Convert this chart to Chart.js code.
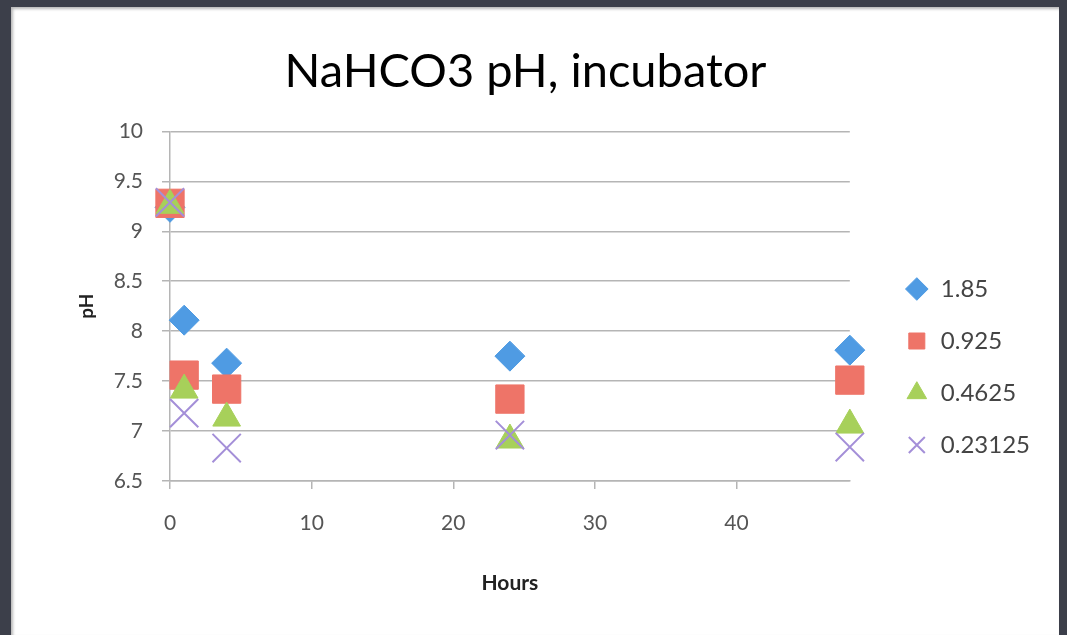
<!DOCTYPE html>
<html>
<head>
<meta charset="utf-8">
<script src="https://cdn.jsdelivr.net/npm/chart.js@4.4.1/dist/chart.umd.min.js"></script>
<style>
  html, body { margin: 0; padding: 0; }
  body { width: 1067px; height: 635px; background: #3c3f4a; overflow: hidden; position: relative; }
  #panel {
    position: absolute; left: 11px; top: 7px; width: 1048px; height: 628px;
    background: #fff; box-shadow: inset 2px 2px 3px #b8b8b8;
  }
  canvas { display: block; }
</style>
</head>
<body>
<div id="panel"><canvas id="phChart" width="1048" height="628"></canvas></div>
<script>
// hours measured
const hours = [0, 1, 4, 24, 48];

// NaHCO3 concentrations (legend labels)
const seriesNames = ["1.85", "0.925", "0.4625", "0.23125"];

// pH readings per concentration
const ph185 = [9.24, 8.11, 7.68, 7.75, 7.81];
const ph0925 = [9.28, 7.56, 7.42, 7.32, 7.51];
const ph04625 = [9.26, 7.41, 7.13, 6.91, 7.06];
const ph023125 = [9.29, 7.18, 6.83, 6.96, 6.84];

const seriesValues = [ph185, ph0925, ph04625, ph023125];
const seriesColors = ["#4f9be3", "#ee7468", "#a7d05a", "#a48fd8"];
const seriesStyles = ["rectRot", "rect", "triangle", "crossRot"];
const seriesRadius = [15, 20, 16, 20];

const yTicksMin = 6.5, yTicksMax = 10, yStep = 0.5;
const xTicksMin = 0, xTicksMax = 48, xStep = 10;

const font = "Lato, 'Open Sans', sans-serif";

let datasets = [];
for (let i = 0; i < seriesNames.length; i++) {
  let pts = [];
  for (let j = 0; j < hours.length; j++) {
    pts.push({x: hours[j], y: seriesValues[i][j]});
  }
  datasets.push({
    label: seriesNames[i],
    data: pts,
    showLine: false,
    clip: false,
    pointStyle: seriesStyles[i],
    pointRadius: seriesRadius[i],
    pointHoverRadius: seriesRadius[i],
    backgroundColor: seriesColors[i],
    borderColor: seriesColors[i],
    borderWidth: seriesStyles[i] == "crossRot" ? 2 : 1,
    // later series drawn on top, like the original
    order: seriesNames.length - i
  });
}

const ctx = document.getElementById("phChart");

new Chart(ctx, {
  type: "scatter",
  data: { datasets: datasets },
  options: {
    responsive: false,
    animation: false,
    layout: { padding: { left: 0, right: 19, top: 0, bottom: 0 } },
    plugins: {
      tooltip: { enabled: false },
      title: {
        display: true,
        text: "NaHCO3 pH, incubator",
        color: "#000",
        font: { family: font, size: 47, weight: "normal" },
        padding: { top: 37, bottom: 31 }
      },
      legend: {
        position: "right",
        // empty title only pushes the entries down
        title: { display: true, text: " ", font: { size: 10 }, padding: { top: 80, bottom: 0 } },
        labels: {
          usePointStyle: true,
          boxHeight: 16,
          color: "#444",
          padding: 28,
          font: { family: font, size: 24 },
          sort: (a, b) => a.datasetIndex - b.datasetIndex
        }
      }
    },
    scales: {
      x: {
        type: "linear",
        min: xTicksMin,
        max: xTicksMax,
        afterBuildTicks: axis => { axis.ticks = axis.ticks.filter(t => t.value % xStep === 0); },
        afterFit: scale => { scale.height = 154; },
        ticks: { stepSize: xStep, color: "#555", padding: 22, font: { family: font, size: 21 } },
        grid: { drawOnChartArea: false, drawTicks: true, tickLength: 8, color: "#b5b5b5", lineWidth: 1.5 },
        border: { color: "#b5b5b5", width: 1.5 },
        title: {
          display: true, text: "Hours", color: "#222",
          font: { family: font, size: 21, weight: "bold" },
          padding: { top: 39, bottom: 39 }
        }
      },
      y: {
        min: yTicksMin,
        max: yTicksMax,
        afterFit: scale => { scale.width = 159; },
        ticks: {
          stepSize: yStep, color: "#555", padding: 19, font: { family: font, size: 21 },
          callback: v => String(parseFloat(v.toFixed(1)))
        },
        grid: { color: "#b5b5b5", lineWidth: 1.5, tickLength: 8 },
        border: { color: "#b5b5b5", width: 1.5 },
        title: {
          display: true, text: "pH", color: "#222",
          font: { family: font, size: 19, weight: "bold" },
          padding: { top: 64, bottom: 64 }
        }
      },
      // blank spacer between plot and legend
      gap: {
        type: "linear",
        axis: "y",
        position: "right",
        afterFit: scale => { scale.width = 27; },
        ticks: { display: false },
        grid: { display: false },
        border: { display: false }
      }
    }
  }
});
</script>
</body>
</html>
